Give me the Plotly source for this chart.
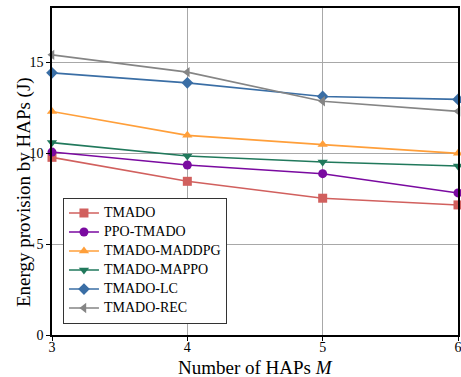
import plotly.graph_objects as go

x_vals = [3, 4, 5, 6]
tmado = [9.78, 8.46, 7.53, 7.16]
ppo_tmado = [10.07, 9.36, 8.88, 7.82]
maddpg = [12.3, 10.99, 10.48, 10.0]
mappo = [10.59, 9.85, 9.52, 9.3]
lc = [14.43, 13.88, 13.13, 12.97]
rec = [15.42, 14.47, 12.87, 12.31]

series = [
    ("TMADO", tmado, "#d1605e", "square"),
    ("PPO-TMADO", ppo_tmado, "#7a0aa0", "circle"),
    ("TMADO-MADDPG", maddpg, "#ff9f3a", "triangle-up"),
    ("TMADO-MAPPO", mappo, "#21795c", "triangle-down"),
    ("TMADO-LC", lc, "#3a6ea5", "diamond"),
    ("TMADO-REC", rec, "#858585", "triangle-left"),
]

fig = go.Figure()
for name, ys, color, sym in series:
    fig.add_trace(go.Scatter(
        x=x_vals, y=ys, name='<span style="font-size:14px">' + name + '</span>',
        mode="lines+markers",
        line=dict(color=color, width=1.6),
        marker=dict(symbol=sym, size=9, color=color),
        cliponaxis=False,
    ))

font_family = "Times New Roman"
fig.update_layout(
    width=461, height=377,
    margin=dict(l=52, r=3, t=8, b=42, autoexpand=False),
    paper_bgcolor="white", plot_bgcolor="white",
    font=dict(family=font_family, size=14, color="black"),
    legend=dict(
        x=0.027, y=0.035, xanchor="left", yanchor="bottom",
        bordercolor="#333333", borderwidth=1, bgcolor="white",
        font=dict(family=font_family, size=9),
        tracegroupgap=0, itemwidth=30,
    ),
    showlegend=True,
    annotations=[
        dict(text="Number of HAPs <i>M</i>", xref="paper", yref="paper", x=0.5, y=-0.1009,
             xanchor="center", yanchor="middle", showarrow=False, font=dict(family=font_family, size=19)),
        dict(text="Energy provision by HAPs (J)", xref="paper", yref="paper", x=-0.069, y=0.437,
             xanchor="center", yanchor="middle", textangle=-90, showarrow=False,
             font=dict(family=font_family, size=19)),
    ],
)
fig.update_xaxes(
    range=[3, 6], tickvals=[3, 4, 5, 6], showgrid=True, gridcolor="#a8a8a8", gridwidth=1,
    showline=True, linecolor="black", linewidth=1.5, mirror=True, automargin=False,
    ticks="outside", ticklen=4, tickcolor="black", zeroline=False, ticklabeloverflow="allow",
    ticklabelstandoff=-6,
)
fig.update_yaxes(
    range=[0, 18], tickvals=[0, 5, 10, 15], showgrid=True, gridcolor="#a8a8a8", gridwidth=1,
    showline=True, linecolor="black", linewidth=1.5, mirror=True, automargin=False,
    ticks="outside", ticklen=4, tickcolor="black", zeroline=False, ticklabeloverflow="allow",
)
fig.write_html("out.html")
